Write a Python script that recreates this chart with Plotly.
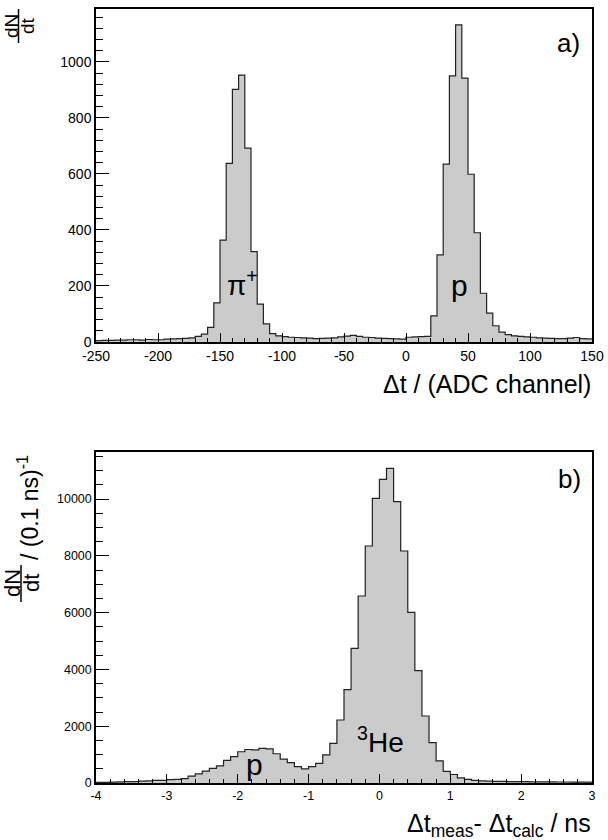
import plotly.graph_objects as go

# ---------------- data ----------------
# Panel a): dN/dt vs Δt (ADC channel), bins of 5 from -250 to 150
top_edges_start = -250
top_bin_width = 5
top_counts = [
    5, 6, 6, 7, 7, 8, 8, 7, 9, 8,            # -250 .. -205
    8, 10, 11, 12, 13, 15, 20, 28, 52, 140,  # -200 .. -155
    364, 638, 902, 953, 692, 323, 135, 65, 30, 22,  # -150 .. -105
    19, 17, 16, 15, 14, 12, 13, 14, 15, 18,  # -100 .. -55
    21, 24, 20, 17, 16, 14, 13, 12, 11, 10,  # -50 .. -5
    17, 18, 19, 20, 93, 311, 635, 950, 1132, 942,  # 0 .. 45
    599, 390, 174, 103, 58, 35, 26, 22, 20, 18,    # 50 .. 95
    17, 15, 14, 13, 12, 12, 14, 16, 12, 11,        # 100 .. 145
]
top_xticks = [-250, -200, -150, -100, -50, 0, 50, 100, 150]
top_xticklabels = ["-250", "-200", "-150", "-100", "-50", "0", "50", "100", "150"]
top_yticks = [0, 200, 400, 600, 800, 1000]
top_yticklabels = ["0", "200", "400", "600", "800", "1000"]

# Panel b): dN/dt per 0.1 ns vs Δt_meas - Δt_calc (ns), bins of 0.1 from -4 to 3
bot_edges_start = -4.0
bot_bin_width = 0.1
bot_counts = [
    22, 25, 33, 38, 45, 50, 68, 72, 90, 95,              # -4.0 .. -3.1
    120, 130, 155, 245, 320, 420, 515, 600, 800, 930,    # -3.0 .. -2.1
    1100, 1180, 1165, 1220, 1200, 1030, 840, 720, 580, 500,  # -2.0 .. -1.1
    575, 693, 990, 1397, 2218, 3290, 4743, 6585, 8345, 10024,  # -1.0 .. -0.1
    10693, 11080, 9906, 8169, 6009, 3955, 2359, 1420, 780, 410,  # 0.0 .. 0.9
    300, 180, 130, 90, 75, 65, 60, 55, 50, 48,           # 1.0 .. 1.9
    45, 42, 40, 40, 38, 36, 35, 34, 33, 32,              # 2.0 .. 2.9
]
bot_xticks = [-4, -3, -2, -1, 0, 1, 2, 3]
bot_xticklabels = ["-4", "-3", "-2", "-1", "0", "1", "2", "3"]
bot_yticks = [0, 2000, 4000, 6000, 8000, 10000]
bot_yticklabels = ["0", "2000", "4000", "6000", "8000", "10000"]

# ---------------- helpers ----------------
W, H = 608, 840
def fx(p):
    return p / W
def fy(p):
    return 1 - p / H

def step_xy(start, width, counts):
    edges = [start + i * width for i in range(len(counts) + 1)]
    ys = list(counts) + [counts[-1]]
    return edges, ys

FONT = "Liberation Sans, Arial, Helvetica, sans-serif"
FILL = "#cbcbcb"

fig = go.Figure()

tx, ty = step_xy(top_edges_start, top_bin_width, top_counts)
fig.add_trace(go.Scatter(x=tx, y=ty, mode="lines", line=dict(shape="hv", color="#222222", width=1.2),
                         fill="tozeroy", fillcolor=FILL, xaxis="x", yaxis="y", showlegend=False,
                         hoverinfo="skip"))
bx, by = step_xy(bot_edges_start, bot_bin_width, bot_counts)
fig.add_trace(go.Scatter(x=bx, y=by, mode="lines", line=dict(shape="hv", color="#222222", width=1.2),
                         fill="tozeroy", fillcolor=FILL, xaxis="x2", yaxis="y2", showlegend=False,
                         hoverinfo="skip"))

axis_common = dict(showgrid=False, zeroline=False, showline=True, linecolor="black", linewidth=1.5,
                   mirror=True, ticks="inside", tickcolor="black", tickwidth=1, automargin=False,
                   color="black", tickmode="array")

fig.update_layout(
    width=W, height=H,
    margin=dict(l=0, r=0, t=0, b=0),
    paper_bgcolor="white", plot_bgcolor="white",
    font=dict(family=FONT, color="black"),
    xaxis=dict(domain=[fx(96), fx(592)], anchor="y", range=[-250, 150], tickvals=top_xticks,
               ticktext=top_xticklabels,
               ticklen=9, tickfont=dict(size=14, family=FONT),
               minor=dict(dtick=10, ticklen=4, ticks="inside", tickcolor="black", tickwidth=1),
               **axis_common),
    yaxis=dict(domain=[fy(342), fy(9)], anchor="x", range=[0, 1189], tickvals=top_yticks,
               ticktext=top_yticklabels,
               ticklen=13, tickfont=dict(size=14, family=FONT),
               minor=dict(dtick=40, ticklen=7, ticks="inside", tickcolor="black", tickwidth=1),
               **axis_common),
    xaxis2=dict(domain=[fx(96), fx(592)], anchor="y2", range=[-4, 3], tickvals=bot_xticks,
                ticktext=bot_xticklabels,
                ticklen=9, tickfont=dict(size=12.5, family=FONT),
                minor=dict(dtick=0.2, ticklen=4, ticks="inside", tickcolor="black", tickwidth=1),
                **axis_common),
    yaxis2=dict(domain=[fy(783), fy(452)], anchor="x2", range=[0, 11655], tickvals=bot_yticks,
                ticktext=bot_yticklabels,
                ticklen=13, tickfont=dict(size=12.5, family=FONT),
                minor=dict(dtick=500, ticklen=7, ticks="inside", tickcolor="black", tickwidth=1),
                **axis_common),
)

def ann(text, x, y, size, xanchor="center", yanchor="middle", angle=0):
    fig.add_annotation(text=text, x=fx(x), y=fy(y), xref="paper", yref="paper", showarrow=False,
                       font=dict(size=size, family=FONT, color="black"), xanchor=xanchor,
                       yanchor=yanchor, textangle=angle)

# panel letters
ann("a)", 568, 43, 26)
ann("b)", 569, 479, 26)
# peak labels
ann("π<sup>+</sup>", 242, 283, 28)
ann("p", 459, 285, 30)
ann("p", 254, 764, 30)
ann("<sup>3</sup>He", 380, 740, 28)
# x titles
ann("Δt / (ADC channel)", 593, 384, 25, xanchor="right")
ann("Δt<sub>meas</sub>- Δt<sub>calc</sub> / ns", 593, 825, 25, xanchor="right")

# y title top: dN/dt fraction
ann("dN", 11, 26, 19, angle=-90)
ann("dt", 27, 26, 19, angle=-90)
fig.add_shape(type="line", xref="paper", yref="paper", x0=fx(18.5), x1=fx(18.5), y0=fy(9), y1=fy(43),
              line=dict(color="black", width=1.5))

# y title bottom
ann("dN", 12, 583, 22, angle=-90)
ann("dt", 31, 583, 22, angle=-90)
fig.add_shape(type="line", xref="paper", yref="paper", x0=fx(21), x1=fx(21), y0=fy(565), y1=fy(602),
              line=dict(color="black", width=1.5))
ann("/ (0.1 ns)<sup>-1</sup>", 28, 508, 23, angle=-90)

fig.write_html("out.html", config={"displayModeBar": False},
               post_script="document.body.style.margin='0px';")
